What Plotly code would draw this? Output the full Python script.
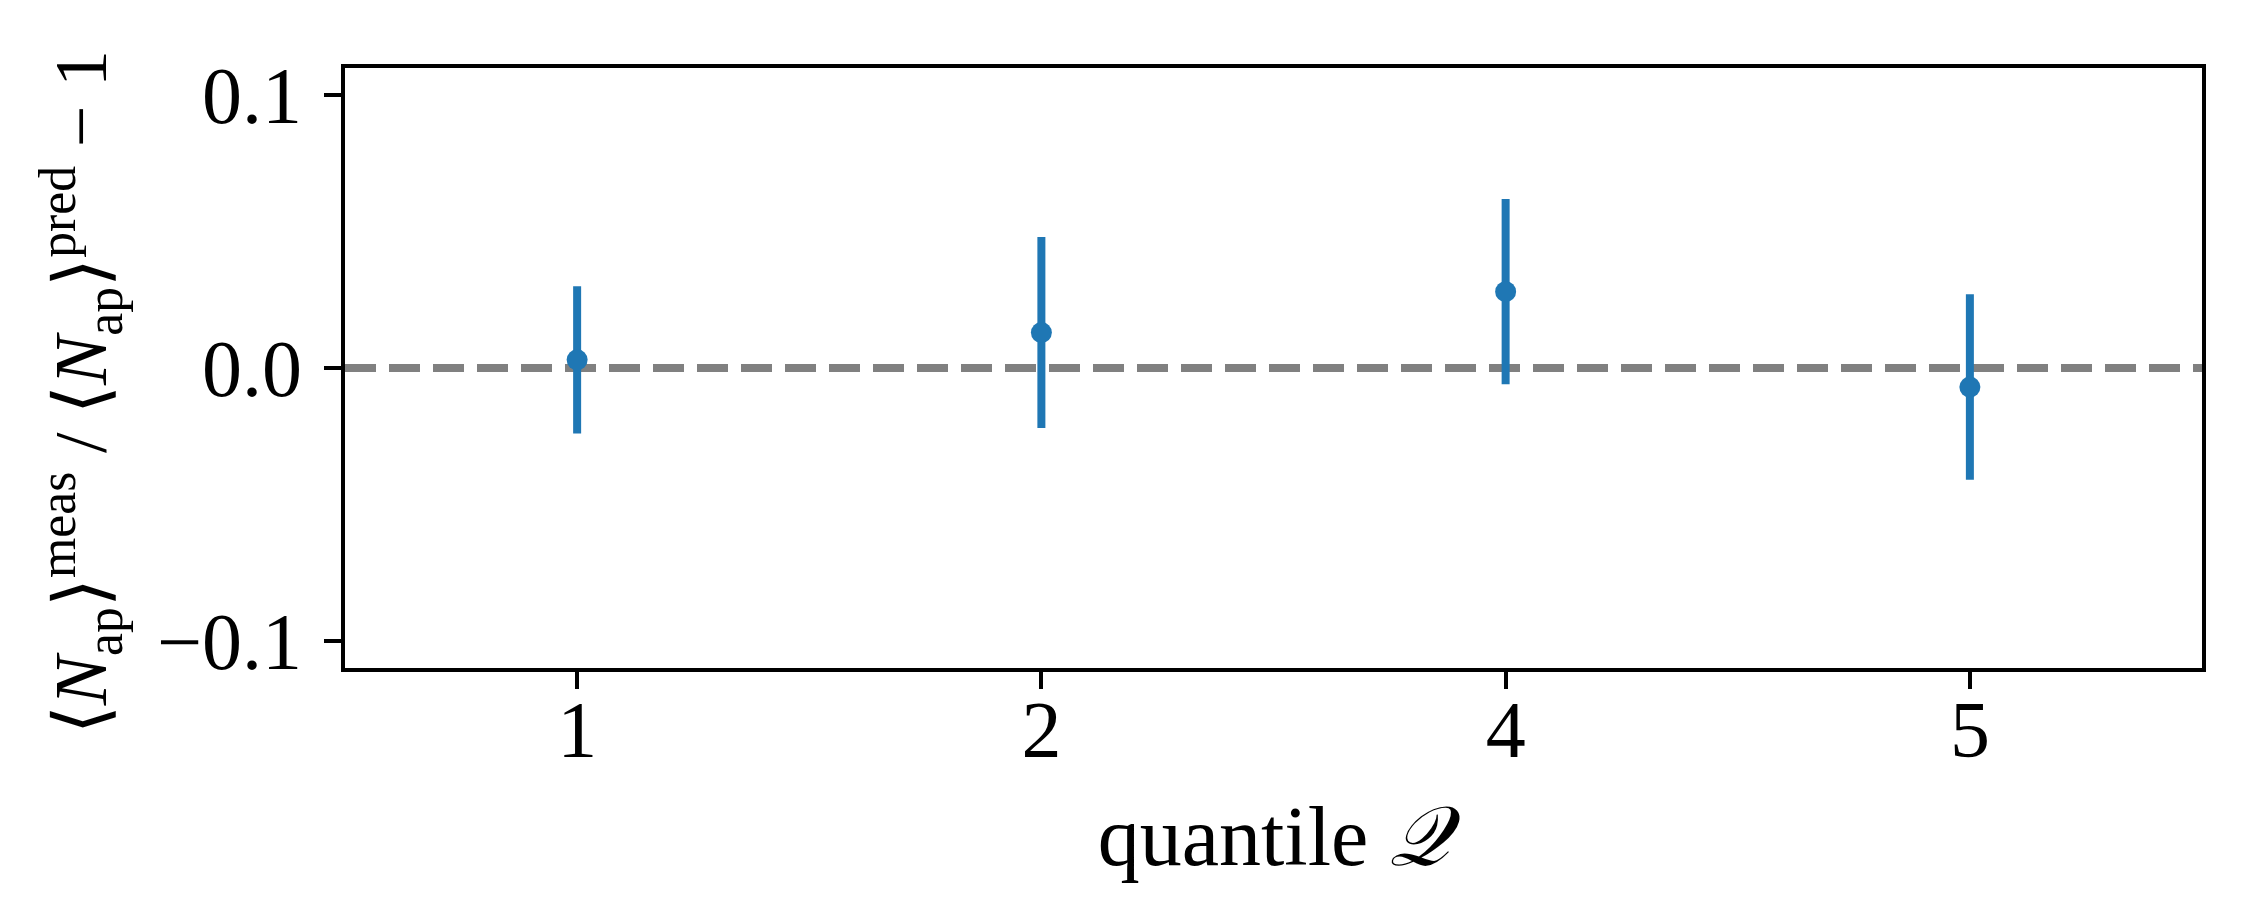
import plotly.graph_objects as go

# quantiles shown on the x axis (Q=3 is missing in the original figure)
quantiles = ["1", "2", "4", "5"]
ratio = [0.003, 0.013, 0.028, -0.007]
ratio_err = [0.027, 0.035, 0.034, 0.034]

y_ticks = [-0.1, 0.0, 0.1]

BLUE = "#1f77b4"
FONT = "Liberation Serif"

fig = go.Figure()

fig.add_shape(type="line", xref="paper", yref="y", x0=0, x1=1, y0=0, y1=0,
              line=dict(color="#808080", width=8, dash="31px,13px"), layer="below")

fig.add_trace(go.Scatter(
    x=quantiles, y=ratio, mode="markers",
    marker=dict(color=BLUE, size=21),
    error_y=dict(type="data", array=ratio_err, visible=True, color=BLUE, thickness=8, width=0),
    showlegend=False,
))

fig.update_xaxes(
    type="category", range=[-0.5, 3.5],
    showline=True, linecolor="black", linewidth=4, mirror=True,
    ticks="outside", ticklen=17, tickwidth=4, tickcolor="black",
    showgrid=False, zeroline=False,
    tickfont=dict(family=FONT, size=80, color="black"),
    ticklabelstandoff=-28,
    title=dict(text="quantile <i>𝒬</i>", font=dict(family=FONT, size=84, color="black"), standoff=34),
)
fig.update_yaxes(
    range=[-0.11, 0.11], tickvals=y_ticks, tickformat=".1f",
    showline=True, linecolor="black", linewidth=4, mirror=True,
    ticks="outside", ticklen=17, tickwidth=4, tickcolor="black",
    showgrid=False, zeroline=False,
    tickfont=dict(family=FONT, size=80, color="black"),
    ticklabelstandoff=6,
)

# y title as a rotated annotation so its place can be set exactly
fig.add_annotation(
    text="⟨<i>N</i><sub>ap</sub>⟩<sup>meas</sup> / ⟨<i>N</i><sub>ap</sub>⟩<sup>pred</sup> − 1",
    xref="paper", yref="paper", x=-0.142, y=0.46, xanchor="center", yanchor="middle",
    textangle=-90, showarrow=False,
    font=dict(family=FONT, size=74, color="black"),
)

fig.update_layout(
    width=2226, height=903,
    margin=dict(l=337, r=32, t=60, b=243),
    plot_bgcolor="white", paper_bgcolor="white",
)

fig.write_html("out.html")
